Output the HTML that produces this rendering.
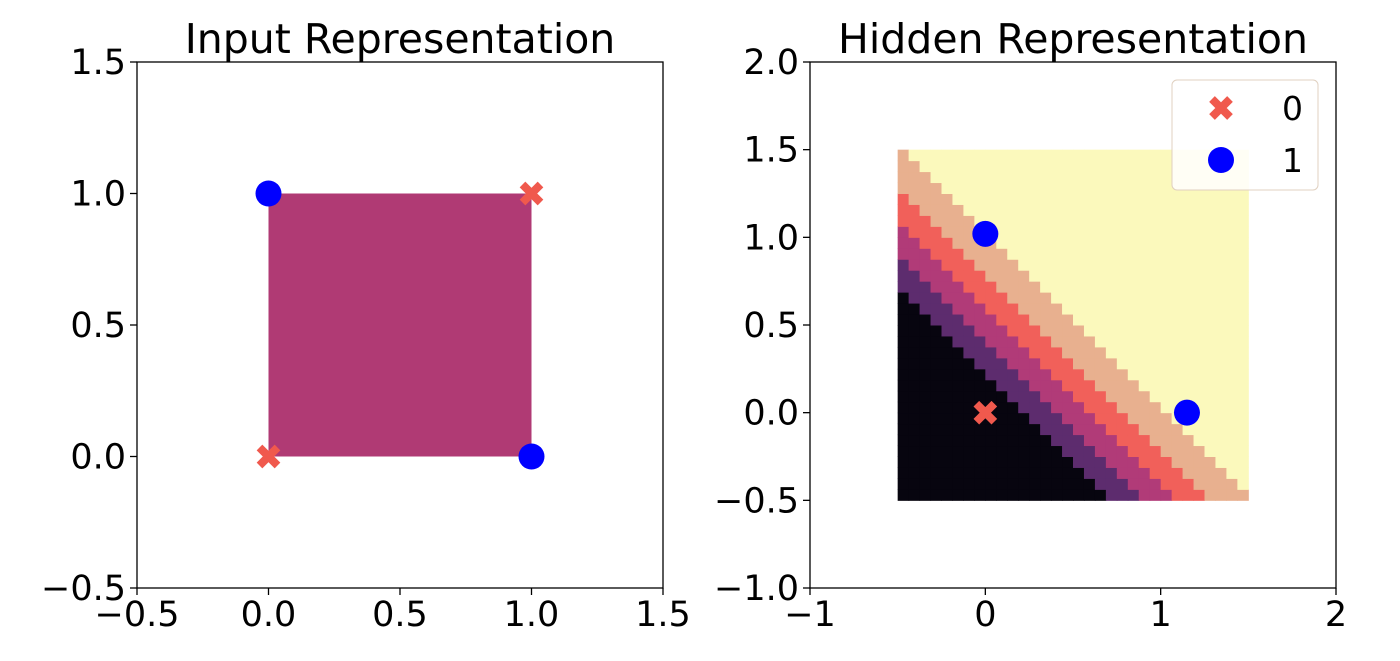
<!DOCTYPE html>
<html><head><meta charset="utf-8"><style>
body{margin:0;background:#fff;}
svg text{font-family:"DejaVu Sans","Liberation Sans",sans-serif;fill:#000;}
</style></head><body>
<svg id="c" width="1400" height="656" viewBox="0 0 1400 656" xmlns="http://www.w3.org/2000/svg"></svg>
<script>
// Data
const leftXTicks=[-0.5,0.0,0.5,1.0,1.5];
const leftYTicks=[-0.5,0.0,0.5,1.0,1.5];
const rightXTicks=[-1,0,1,2];
const rightYTicks=[-1.0,-0.5,0.0,0.5,1.0,1.5,2.0];
const inputX0=[0,1], inputY0=[0,1];
const inputX1=[0,1], inputY1=[1,0];
const hiddenX0=[0], hiddenY0=[0];
const hiddenX1=[0,1.15], hiddenY1=[1.02,0];
const bandEdges=[0.2,0.4,0.6,0.8,1.02];
const bandColors=['#07050f','#5d2c6e','#b13b78','#f1605a','#e8b08f','#fbf9bc'];
const gridN=32;

const NS='http://www.w3.org/2000/svg';
const svg=document.getElementById('c');
function mk(t,a,p){const e=document.createElementNS(NS,t);for(const k in a)e.setAttribute(k,a[k]);(p||svg).appendChild(e);return e;}
function fmt(v,d){return (v<0?'\u2212':'')+Math.abs(v).toFixed(d);}

function axes(name,x0,y0,w,h,xmin,xmax,ymin,ymax,xt,yt,xd,yd,title){
  const g=mk('g',{});
  
  
  const sx=v=>x0+(v-xmin)/(xmax-xmin)*w;
  const sy=v=>y0+h-(v-ymin)/(ymax-ymin)*h;
  return {g,sx,sy,draw(){
    const fr=mk('rect',{x:x0,y:y0,width:w,height:h,fill:'none',stroke:'#000','stroke-width':1.3},g);
    
    xt.forEach(v=>{const X=sx(v);mk('line',{x1:X,x2:X,y1:y0+h,y2:y0+h+7,stroke:'#000','stroke-width':1.3},g);
      const t=mk('text',{x:X,y:y0+h+38,'text-anchor':'middle','font-size':35},g);t.textContent=fmt(v,xd);
      });
    yt.forEach(v=>{const Y=sy(v);mk('line',{x1:x0-7,x2:x0,y1:Y,y2:Y,stroke:'#000','stroke-width':1.3},g);
      const t=mk('text',{x:x0-11,y:Y+12,'text-anchor':'end','font-size':35},g);t.textContent=fmt(v,yd);
      });
    const tt=mk('text',{x:x0+w/2,y:y0-9,'text-anchor':'middle','font-size':41},g);tt.textContent=title;
    
  }};
}
function cross(g,X,Y){const p=mk('path',{d:`M${X-9},${Y-9}L${X+9},${Y+9}M${X+9},${Y-9}L${X-9},${Y+9}`,stroke:'#f0594d','stroke-width':8,'stroke-linecap':'butt'},g);
  }
function dot(g,X,Y){const c=mk('circle',{cx:X,cy:Y,r:13,fill:'#0000ff'},g);
  }

// Left
const L=axes('input-plot',137,62,526,526,-0.5,1.5,-0.5,1.5,leftXTicks,leftYTicks,1,1,'Input Representation');
const sq=mk('rect',{x:L.sx(0),y:L.sy(1),width:L.sx(1)-L.sx(0),height:L.sy(0)-L.sy(1),fill:'#b03a74'},L.g);

L.draw();
inputX0.forEach((x,i)=>cross(L.g,L.sx(x),L.sy(inputY0[i])));
inputX1.forEach((x,i)=>dot(L.g,L.sx(x),L.sy(inputY1[i])));

// Right
const R=axes('hidden-plot',810,62,526,526,-1,2,-1,2,rightXTicks,rightYTicks,0,1,'Hidden Representation');
const hm=mk('g',{},R.g);

const cw=(R.sx(1.5)-R.sx(-0.5))/gridN;
for(let i=0;i<gridN;i++)for(let j=0;j<gridN;j++){
  const x=-0.5+(i+0.5)*2/gridN, y=-0.5+(j+0.5)*2/gridN, s=x+y;
  let k=0;while(k<bandEdges.length&&s>bandEdges[k])k++;
  const r=mk('rect',{x:R.sx(-0.5)+i*cw,y:R.sy(-0.5)-(j+1)*cw,width:cw+0.5,height:cw+0.5,fill:bandColors[k]},hm);
  
}
R.draw();
hiddenX0.forEach((x,i)=>cross(R.g,R.sx(x),R.sy(hiddenY0[i])));
hiddenX1.forEach((x,i)=>dot(R.g,R.sx(x),R.sy(hiddenY1[i])));
// Legend
const lg=mk('g',{},R.g);

mk('rect',{x:1172,y:80,width:146,height:110,rx:5,fill:'#fff','fill-opacity':0.85,stroke:'#e0d0c0'},lg);
cross(lg,1221,108);dot(lg,1221,160);
const l0=mk('text',{x:1282,y:120,'font-size':33},lg);l0.textContent='0';

const l1=mk('text',{x:1282,y:172,'font-size':33},lg);l1.textContent='1';

</script>
</body></html>
